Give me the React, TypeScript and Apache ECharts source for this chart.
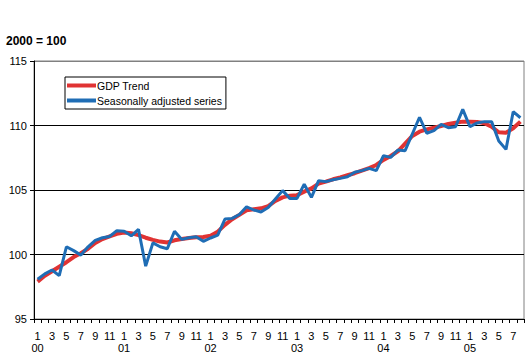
import React, { useEffect, useRef } from "react";
import * as echarts from "echarts";

const years = ["00", "01", "02", "03", "04", "05"];
const monthsIn2005 = 8;

const categories: string[] = [];
years.forEach((y, yi) => {
  const n = yi === years.length - 1 ? monthsIn2005 : 12;
  for (let m = 1; m <= n; m++) categories.push(`${m}|${y}`);
});

const gdpTrend = [
  97.9, 98.35, 98.7, 99.05, 99.4, 99.8, 100.1, 100.45, 100.9, 101.2, 101.4, 101.6,
  101.7, 101.65, 101.5, 101.3, 101.13, 101.0, 100.93, 101.1, 101.2, 101.28, 101.33, 101.35,
  101.45, 101.77, 102.3, 102.73, 103.07, 103.42, 103.5, 103.58, 103.75, 104.15, 104.43, 104.56,
  104.6, 104.87, 105.13, 105.5, 105.65, 105.83, 105.98, 106.14, 106.3, 106.5, 106.7, 106.94,
  107.33, 107.64, 108.0, 108.6, 109.19, 109.52, 109.7, 109.83, 109.96, 110.12, 110.22, 110.3,
  110.3, 110.28, 110.17, 109.9, 109.47, 109.44, 109.78, 110.3,
];

const seasonallyAdjusted = [
  98.08, 98.5, 98.8, 98.36, 100.6, 100.3, 99.95, 100.6, 101.1, 101.3, 101.4, 101.85,
  101.8, 101.45, 101.95, 99.1, 100.9, 100.6, 100.45, 101.8, 101.17, 101.3, 101.38, 101.02,
  101.28, 101.5, 102.75, 102.8, 103.1, 103.7, 103.45, 103.3, 103.65, 104.3, 104.95, 104.35,
  104.35, 105.45, 104.43, 105.72, 105.65, 105.8, 105.9, 106.03, 106.37, 106.5, 106.68, 106.5,
  107.66, 107.53, 108.1, 108.05, 109.34, 110.64, 109.4, 109.6, 110.09, 109.83, 109.9, 111.25,
  109.9, 110.2, 110.3, 110.3, 108.8, 108.15, 111.07, 110.6,
];

const yMin = 95;
const yMax = 115;
const yStep = 5;

const FONT = 'Arial, "Liberation Sans", sans-serif';

export default function App() {
  const ref = useRef<HTMLDivElement>(null);

  useEffect(() => {
    if (!ref.current) return;
    const chart = echarts.init(ref.current, undefined, { renderer: "svg" });
    chart.setOption({
      animation: false,
      backgroundColor: "#ffffff",
      textStyle: { fontFamily: FONT },
      title: {
        text: "2000 = 100",
        left: 6,
        top: 35,
        padding: 0,
        textStyle: { fontFamily: FONT, fontSize: 12, fontWeight: "bold", color: "#000" },
      },
      legend: {
        orient: "vertical",
        left: 65,
        top: 77,
        padding: [3, 4, 3, 2],
        itemGap: 4,
        itemWidth: 29,
        itemHeight: 4,
        borderColor: "#000",
        borderWidth: 1,
        icon: "rect",
        textStyle: { fontFamily: FONT, fontSize: 10.5, color: "#000", padding: [0, 0, 0, -4] },
        data: ["GDP Trend", "Seasonally adjusted series"],
      },
      grid: {
        left: 34,
        right: 5,
        top: 61,
        bottom: 43,
        show: true,
        borderColor: "#808080",
        borderWidth: 1,
        containLabel: false,
      },
      xAxis: {
        type: "category",
        data: categories,
        boundaryGap: true,
        axisLine: { show: true, lineStyle: { color: "#000", width: 1 } },
        axisTick: { show: true, interval: 0, length: 4, lineStyle: { color: "#000" } },
        axisLabel: {
          interval: 1,
          margin: 11,
          fontSize: 11,
          lineHeight: 12,
          color: "#000",
          fontFamily: FONT,
          formatter: (v: string) => {
            const [m, y] = v.split("|");
            return m === "1" ? `${m}\n${y}` : m;
          },
        },
        splitLine: { show: false },
      },
      yAxis: {
        type: "value",
        min: yMin,
        max: yMax,
        interval: yStep,
        axisLine: { show: true, lineStyle: { color: "#000", width: 1 } },
        axisTick: { show: true, length: 4, lineStyle: { color: "#000" } },
        axisLabel: { fontSize: 11, color: "#000", margin: 7, fontFamily: FONT },
        splitLine: {
          show: true,
          lineStyle: { color: ["#000", "#000", "#000", "#000", "#808080"], width: 1 },
        },
      },
      series: [
        {
          name: "GDP Trend",
          type: "line",
          data: gdpTrend,
          symbol: "none",
          smooth: false,
          color: "#e03333",
          lineStyle: { color: "#e03333", width: 4 },
        },
        {
          name: "Seasonally adjusted series",
          type: "line",
          data: seasonallyAdjusted,
          symbol: "none",
          smooth: false,
          color: "#1f6db5",
          lineStyle: { color: "#1f6db5", width: 3 },
        },
      ],
    });
    return () => chart.dispose();
  }, []);

  return (
    <div
      ref={ref}
      style={{ position: "fixed", left: 0, top: 0, width: 529, height: 362, background: "#fff" }}
    />
  );
}
